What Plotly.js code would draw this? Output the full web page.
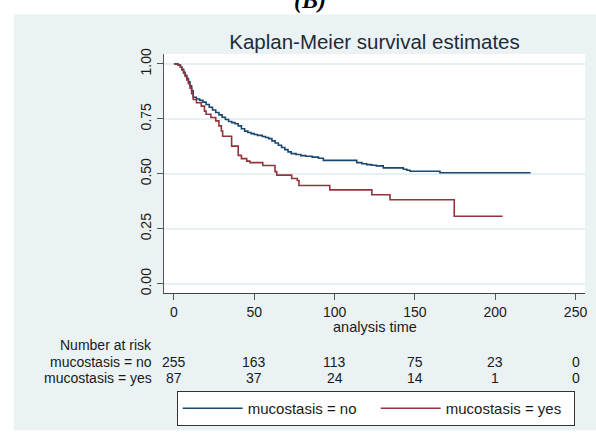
<!DOCTYPE html>
<html>
<head>
<meta charset="utf-8">
<script src="https://cdn.plot.ly/plotly-3.0.1.min.js"></script>
<style>html,body{margin:0;padding:0;background:#fff;}#chart{width:596px;height:437px;}</style>
</head>
<body>
<div id="chart"></div>
<script>
// Kaplan-Meier estimates
var timesNo = [0, 2.5, 4, 5, 6, 7, 8, 9, 10, 11, 12, 14, 16, 18, 20, 22, 24, 26, 28, 30, 32, 34, 36, 38, 40, 42, 44, 46, 48, 50, 52, 55, 57, 59, 61, 63, 65, 67, 69, 71, 73, 76, 79, 82, 86, 90, 93, 113.8, 117, 120, 123, 126, 130.3, 142.8, 145, 147, 165.6, 222];
var survNo = [1, 0.995, 0.985, 0.975, 0.962, 0.948, 0.933, 0.918, 0.9, 0.878, 0.848, 0.84, 0.834, 0.826, 0.815, 0.803, 0.79, 0.779, 0.768, 0.757, 0.747, 0.738, 0.733, 0.728, 0.718, 0.705, 0.694, 0.688, 0.683, 0.679, 0.675, 0.67, 0.665, 0.66, 0.65, 0.64, 0.63, 0.62, 0.61, 0.6, 0.592, 0.588, 0.583, 0.58, 0.576, 0.571, 0.561, 0.551, 0.546, 0.542, 0.539, 0.536, 0.527, 0.521, 0.516, 0.512, 0.505, 0.505];
var timesYes = [0, 2.5, 4, 5, 6, 7, 8, 9, 10, 11, 12, 14, 17, 19, 20, 23, 26, 28, 29.5, 30.3, 35.9, 40, 42, 45.3, 47.3, 55.3, 62.9, 64, 73.3, 76.8, 77.8, 97, 123.2, 134.5, 174.5, 204.6];
var survYes = [1, 0.995, 0.985, 0.972, 0.958, 0.943, 0.927, 0.91, 0.89, 0.865, 0.838, 0.823, 0.808, 0.785, 0.771, 0.756, 0.741, 0.718, 0.695, 0.671, 0.626, 0.584, 0.569, 0.558, 0.551, 0.538, 0.51, 0.494, 0.479, 0.47, 0.447, 0.427, 0.405, 0.382, 0.307, 0.307];

var seriesNames = ['mucostasis = no', 'mucostasis = yes'];
var atRiskTimes = [0, 50, 100, 150, 200, 250];
var atRiskNo = [255, 163, 113, 75, 23, 0];
var atRiskYes = [87, 37, 24, 14, 1, 0];
var xTickVals = [0, 50, 100, 150, 200, 250];
var yTickVals = [0, 0.25, 0.5, 0.75, 1];
var yTickText = ['0.00', '0.25', '0.50', '0.75', '1.00'];

var FONT = 'Arial, "Liberation Sans", sans-serif';
var TXT = '#1a1a1a';
var BLUE = '#1a476f';
var RED = '#90353b';
var BG = '#eaf2f3';

var traces = [
  {x: timesNo, y: survNo, name: seriesNames[0], type: 'scatter', mode: 'lines',
   line: {shape: 'hv', color: BLUE, width: 1.6}},
  {x: timesYes, y: survYes, name: seriesNames[1], type: 'scatter', mode: 'lines',
   line: {shape: 'hv', color: RED, width: 1.6}}
];

var W = 596, H = 437, mL = 164, mR = 11, mT = 54, mB = 141;
var pw = W - mL - mR, ph = H - mT - mB;
function px(x) { return (x - mL) / pw; }
function py(y) { return (H - mB - y) / ph; }

var TF = 14;
var ann = [];
function txt(x, y, s, anchor, size, xref) {
  ann.push({xref: xref || 'paper', yref: 'paper', x: x, y: py(y), xanchor: anchor, yanchor: 'middle',
    text: s, showarrow: false, borderpad: 0, font: {family: FONT, size: size, color: TXT}});
}
txt(px(374.5), 330.5, 'analysis time', 'center', 14.5);
txt(px(153), 349, 'Number at risk', 'right', TF);
txt(px(153), 365.8, seriesNames[0], 'right', TF);
txt(px(153), 382.2, seriesNames[1], 'right', TF);
for (var i = 0; i < atRiskTimes.length; i++) {
  txt(atRiskTimes[i], 365.8, String(atRiskNo[i]), 'center', TF, 'x');
  txt(atRiskTimes[i], 382.2, String(atRiskYes[i]), 'center', TF, 'x');
}
ann.push({xref: 'paper', yref: 'paper', x: px(310), y: py(14), xanchor: 'center', yanchor: 'bottom',
  text: '<b><i>(B)</i></b>', showarrow: false, borderpad: 0,
  font: {family: '"Liberation Serif", "DejaVu Serif", serif', size: 24, color: '#000'}});

var shapes = [
  {type: 'rect', xref: 'paper', yref: 'paper', x0: px(-5), x1: px(W + 5), y0: py(14), y1: py(-5),
   fillcolor: '#fff', line: {width: 0}, layer: 'below'},
  {type: 'rect', xref: 'paper', yref: 'paper', x0: px(-5), x1: px(14), y0: py(H + 5), y1: py(-5),
   fillcolor: '#fff', line: {width: 0}, layer: 'below'},
  {type: 'rect', xref: 'paper', yref: 'paper', x0: px(-5), x1: px(W + 5), y0: py(H + 5), y1: py(435),
   fillcolor: '#fff', line: {width: 0}, layer: 'below'}
];

var layout = {
  width: W, height: H,
  margin: {l: mL, r: mR, t: mT, b: mB, pad: 0},
  paper_bgcolor: BG,
  plot_bgcolor: '#ffffff',
  font: {family: FONT, size: 15, color: TXT},
  title: {text: 'Kaplan-Meier survival estimates', x: 0.5, xref: 'paper', xanchor: 'center',
    y: 1 - 42 / H, yref: 'container', yanchor: 'middle',
    font: {family: FONT, size: 20.5, color: '#1e2b38'}},
  xaxis: {range: [-6.2, 255.9], tickvals: xTickVals, ticks: 'outside', ticklen: 6, tickcolor: '#555',
    showgrid: false, zeroline: false, showline: true, linecolor: '#444', linewidth: 1.3,
    tickfont: {family: FONT, size: 14, color: TXT}},
  yaxis: {range: [-0.042, 1.045], tickvals: yTickVals, ticktext: yTickText, ticks: 'outside', ticklen: 6,
    tickcolor: '#555', tickangle: -90, showgrid: true, gridcolor: '#e6eff2', gridwidth: 1.5,
    zeroline: false, showline: true, linecolor: '#555', linewidth: 1.3,
    tickfont: {family: FONT, size: 14, color: TXT}},
  showlegend: true,
  legend: {orientation: 'h', x: px(176.7), y: py(395.3), xanchor: 'left', yanchor: 'top',
    bgcolor: '#ffffff', bordercolor: '#333', borderwidth: 1, itemwidth: 60, entrywidth: 123,
    font: {family: FONT, size: 15, color: TXT}},
  annotations: ann,
  shapes: shapes
};

Plotly.newPlot('chart', traces, layout, {displayModeBar: false, staticPlot: true});
</script>
</body>
</html>
